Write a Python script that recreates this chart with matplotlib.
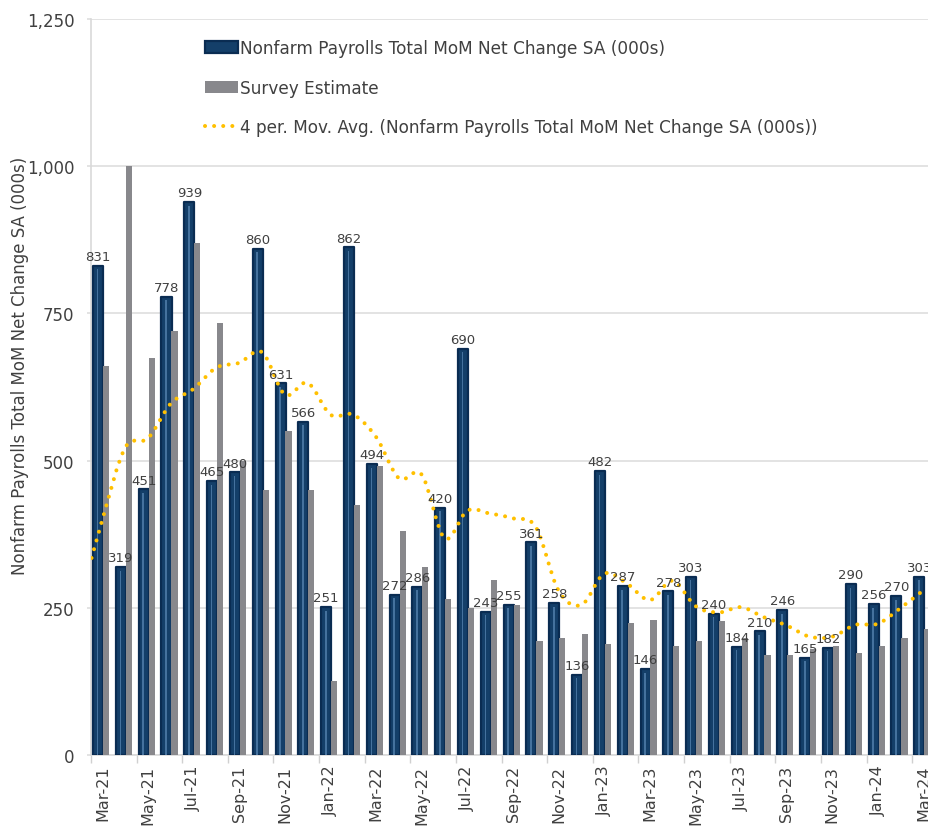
import matplotlib
matplotlib.use("Agg")
import matplotlib.pyplot as plt
import numpy as np
from matplotlib.lines import Line2D
from matplotlib.patches import Patch, PathPatch
from matplotlib.path import Path

months = ["Mar-21", "Apr-21", "May-21", "Jun-21", "Jul-21", "Aug-21", "Sep-21", "Oct-21",
          "Nov-21", "Dec-21", "Jan-22", "Feb-22", "Mar-22", "Apr-22", "May-22", "Jun-22",
          "Jul-22", "Aug-22", "Sep-22", "Oct-22", "Nov-22", "Dec-22", "Jan-23", "Feb-23",
          "Mar-23", "Apr-23", "May-23", "Jun-23", "Jul-23", "Aug-23", "Sep-23", "Oct-23",
          "Nov-23", "Dec-23", "Jan-24", "Feb-24", "Mar-24"]

payrolls = [831, 319, 451, 778, 939, 465, 480, 860, 631, 566, 251, 862, 494, 272, 286, 420,
            690, 243, 255, 361, 258, 136, 482, 287, 146, 278, 303, 240, 184, 210, 246, 165,
            182, 290, 256, 270, 303]

survey = [660, 1000, 675, 720, 870, 733, 500, 450, 550, 450, 125, 424, 490, 380, 319, 265,
          250, 297, 255, 193, 199, 205, 188, 225, 229, 185, 194, 228, 199, 169, 169, 180,
          185, 174, 185, 199, 214]

# 4 period moving average; first value is Feb-21 (left of the axis)
mov_avg = [260, 400, 522, 538, 597, 622, 658, 666, 684, 612, 632, 578, 578, 540, 470, 476,
           368, 415, 410, 402, 387, 279, 255, 308, 291, 263, 296, 253, 242, 251, 234, 220,
           201, 201, 221, 223, 250, 280]

NAVY = "#143f69"
NAVY_EDGE = "#0a2c52"
NAVY_STRIPE = "#45729e"
GRAY = "#88888c"
GOLD = "#ffc000"
TEXT = "#404040"
GRID = "#e3e3e3"

plt.rcParams["font.family"] = ["DejaVu Sans"]

W, H = 929, 829
fig = plt.figure(figsize=(W / 100, H / 100), dpi=100)
ax = fig.add_axes([91 / W, 73 / H, 844 / W, 736 / H])

x = np.arange(len(months))

# blue bars with a light inner stripe
blue = ax.bar(x - 0.19, payrolls, width=0.44, color=NAVY, edgecolor=NAVY_EDGE,
              linewidth=1.6, zorder=3)
for p in blue:
    p.set_joinstyle("round")
ax.bar(x - 0.21, np.array(payrolls) - 6, width=0.07, color=NAVY_STRIPE, linewidth=0, zorder=4)

ax.bar(x + 0.16, survey, width=0.27, color=GRAY, linewidth=0, zorder=5)

# smoothed moving-average line (Catmull-Rom as cubic bezier)
mx = np.arange(-1, len(months), dtype=float)
my = np.array(mov_avg, dtype=float)
pts = np.column_stack([mx, my])
ext = np.vstack([pts[0], pts, pts[-1]])
verts = [tuple(pts[0])]
codes = [Path.MOVETO]
for i in range(len(pts) - 1):
    p0, p1, p2, p3 = ext[i], ext[i + 1], ext[i + 2], ext[i + 3]
    c1 = p1 + (p2 - p0) / 6
    c2 = p2 - (p3 - p1) / 6
    verts += [tuple(c1), tuple(c2), tuple(p2)]
    codes += [Path.CURVE4] * 3
ma_patch = PathPatch(Path(verts, codes), facecolor="none", edgecolor=GOLD, linewidth=2.9,
                     linestyle=(0, (0.01, 2.25)), capstyle="round", zorder=6)
ax.add_patch(ma_patch)

for xi, v in zip(x, payrolls):
    ax.annotate(f"{v}", (xi - 0.19, v), xytext=(0, 2), textcoords="offset points",
                ha="center", va="bottom", fontsize=9.5, color=TEXT, zorder=7)

ax.set_xlim(-0.5, len(months) - 0.5)
ax.set_ylim(0, 1250)
ax.set_yticks([0, 250, 500, 750, 1000, 1250])
ax.set_yticklabels(["0", "250", "500", "750", "1,000", "1,250"])
ax.yaxis.grid(True, color=GRID, linewidth=1.4, zorder=0)
ax.set_axisbelow(True)

ax.set_xticks(np.arange(-0.5, len(months) - 1, 2))
ax.set_xticklabels([])
ax.set_xticks(x[::2], minor=True)
ax.set_xticklabels(months[::2], minor=True, rotation=90)
ax.tick_params(axis="x", which="major", length=6, color="#d0d0d0", width=1)
ax.tick_params(axis="x", which="minor", length=0, pad=7, labelsize=11.5, labelcolor=TEXT)
ax.tick_params(axis="y", length=3, color=GRID, width=1.4, pad=9, labelsize=12,
               labelcolor=TEXT)

for s in ["top", "right"]:
    ax.spines[s].set_visible(False)
ax.spines["left"].set_color("#d9d9d9")
ax.spines["bottom"].set_color("#d9d9d9")
ax.spines["left"].set_linewidth(1.2)
ax.spines["bottom"].set_linewidth(1.2)

fig.text(20 / W, 1 - 366 / H, "Nonfarm Payrolls Total MoM Net Change SA (000s)",
         rotation=90, ha="center", va="center", fontsize=12, color=TEXT)

handles = [
    Patch(facecolor=NAVY, edgecolor=NAVY_EDGE, linewidth=1.6),
    Patch(facecolor=GRAY, linewidth=0),
    Line2D([0], [0], color=GOLD, linewidth=2.9, linestyle=(0, (0.01, 2.25)),
           dash_capstyle="round"),
]
labels = ["Nonfarm Payrolls Total MoM Net Change SA (000s)", "Survey Estimate",
          "4 per. Mov. Avg. (Nonfarm Payrolls Total MoM Net Change SA (000s))"]
leg = fig.legend(handles, labels, loc="upper left", bbox_to_anchor=(205 / W, 1 - 40 / H),
                 frameon=False, fontsize=12.2, labelcolor=TEXT, borderpad=0,
                 borderaxespad=0, handlelength=1.92, handletextpad=0.12,
                 labelspacing=1.27)

fig.savefig("out.png", dpi=100)
